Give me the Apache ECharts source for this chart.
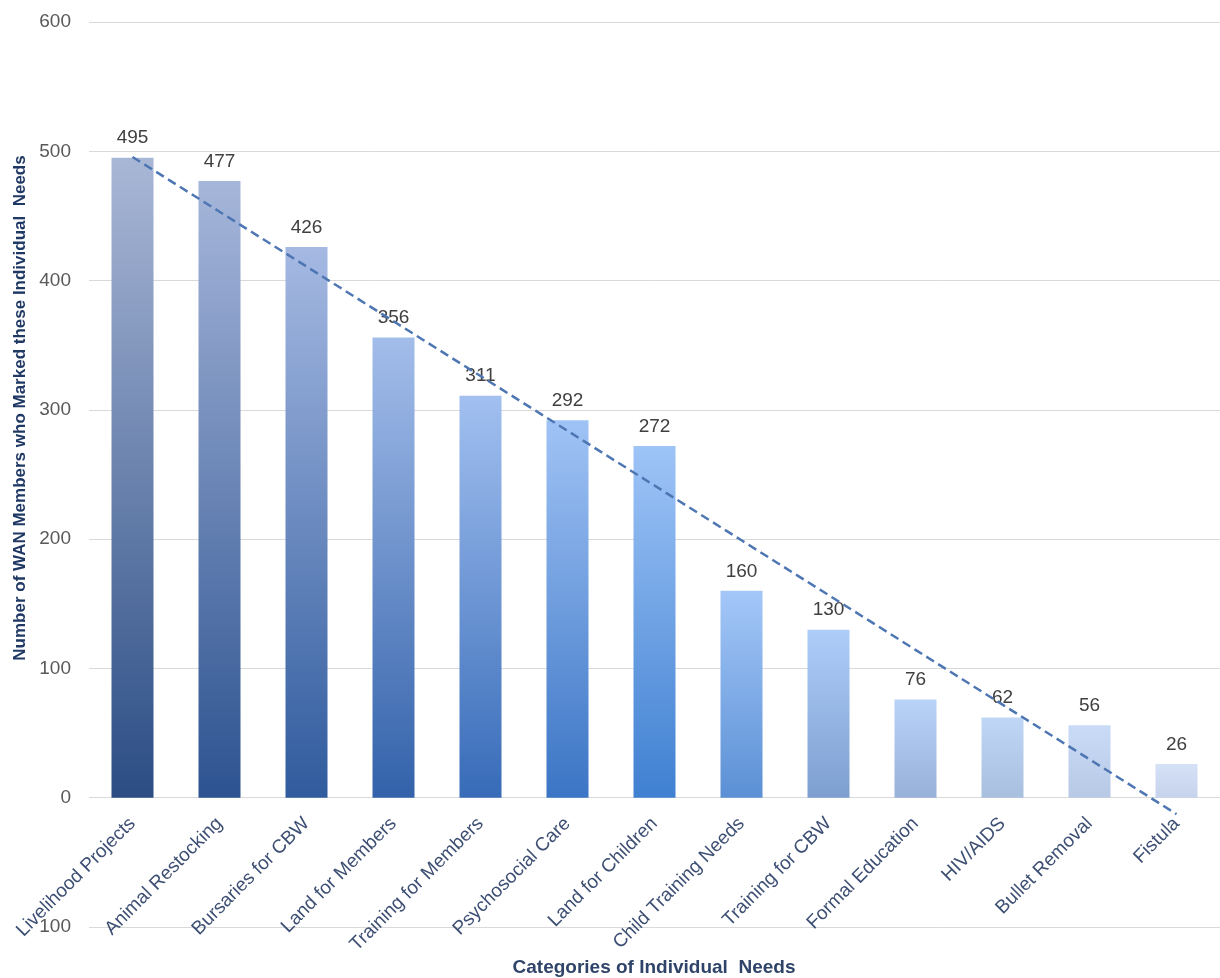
<!DOCTYPE html>
<html>
<head>
<meta charset="utf-8">
<script src="https://cdn.jsdelivr.net/npm/echarts@6/dist/echarts.min.js"></script>
<style>
html,body{margin:0;padding:0;background:#fff;}
#chart{width:1220px;height:978px;}
</style>
</head>
<body>
<div id="chart"></div>
<script>
// ---- data ----
const categories = ["Livelihood Projects","Animal Restocking","Bursaries for CBW","Land for Members","Training for Members","Psychosocial Care","Land for Children","Child Training Needs","Training for CBW","Formal Education","HIV/AIDS","Bullet Removal","Fistula"];
const values = [495,477,426,356,311,292,272,160,130,76,62,56,26];
const yTicks = [-100,0,100,200,300,400,500,600];
const yAxisTitle = "Number of WAN Members who Marked these Individual  Needs";
const xAxisTitle = "Categories of Individual  Needs";

// ---- styles ----
const topColors = ["#a9b7d6","#a6b6da","#a5b9e2","#a3bdea","#a2c0f0","#a0c3f5","#9ec4f7","#a4c7f8","#afcdf9","#b9d2f8","#c0d6f7","#c9dbf6","#d4e1f6"];
const botColors = ["#2b4d84","#2d5390","#305b9d","#3362aa","#376bb8","#3b75c5","#3f80d1","#5b90d5","#7d9fd0","#97b1d8","#a9bfe0","#b8c9e6","#c6d3ec"];
const FONT = 'Liberation Sans, Arial, sans-serif';

// linear trend (least squares) computed from the values
const n = values.length;
let sx=0, sy=0, sxy=0, sxx=0;
values.forEach((v,i)=>{ sx+=i; sy+=v; sxy+=i*v; sxx+=i*i; });
const slope = (n*sxy - sx*sy)/(n*sxx - sx*sx);
const intercept = (sy - slope*sx)/n;
const trend = values.map((v,i)=> +(intercept + slope*i).toFixed(2));

const gridTop = 22, gridBottom = 51, H = 978;
const yMin = yTicks[0], yMax = yTicks[yTicks.length-1];
// shift x-axis (labels) from the grid bottom up to the zero line
const zeroOffset = -((H - gridTop - gridBottom) * (0 - yMin) / (yMax - yMin));

const chart = echarts.init(document.getElementById('chart'));
chart.setOption({
  animation:false,
  backgroundColor:'#ffffff',
  grid:{left:89, right:0, top:gridTop, bottom:gridBottom, containLabel:false, outerBoundsMode:'none'},
  xAxis:{
    type:'category',
    data:categories,
    offset:zeroOffset,
    axisLine:{show:false, onZero:false},
    axisTick:{show:false},
    axisLabel:{rotate:45, margin:23, color:'#3d4f73', fontSize:19, fontFamily:FONT, interval:0},
    splitLine:{show:false}
  },
  yAxis:{
    type:'value',
    min:yMin, max:yMax, interval:100,
    axisLine:{show:false},
    axisTick:{show:false},
    axisLabel:{margin:18, color:'#595959', fontSize:19, fontFamily:FONT,
      formatter:v=>String(Math.abs(v))},
    splitLine:{show:true, lineStyle:{color:'#d9d9d9', width:1}}
  },
  graphic:[
    {type:'text', x:20, y:408, rotation:Math.PI/2,
     style:{text:yAxisTitle, fill:'#1f3864', font:'bold 17px "Liberation Sans", Arial, sans-serif', align:'center', verticalAlign:'middle'}},
    {type:'text', x:654, y:968,
     style:{text:xAxisTitle, fill:'#2f4468', font:'bold 19px "Liberation Sans", Arial, sans-serif', align:'center', verticalAlign:'middle'}}
  ],
  series:[
    {
      type:'bar',
      barWidth:42,
      z:2,
      data:values.map((v,i)=>({
        value:v,
        itemStyle:{color:new echarts.graphic.LinearGradient(0,0,0,1,[
          {offset:0,color:topColors[i]},{offset:1,color:botColors[i]}])}
      })),
      label:{show:true, position:'top', distance:10, color:'#404040', fontSize:19, fontFamily:FONT}
    },
    {
      type:'line',
      data:trend,
      z:5,
      symbol:'none',
      silent:true,
      lineStyle:{color:'#4d76b3', width:2.5, type:[9,5]}
    }
  ]
});
</script>
</body>
</html>
